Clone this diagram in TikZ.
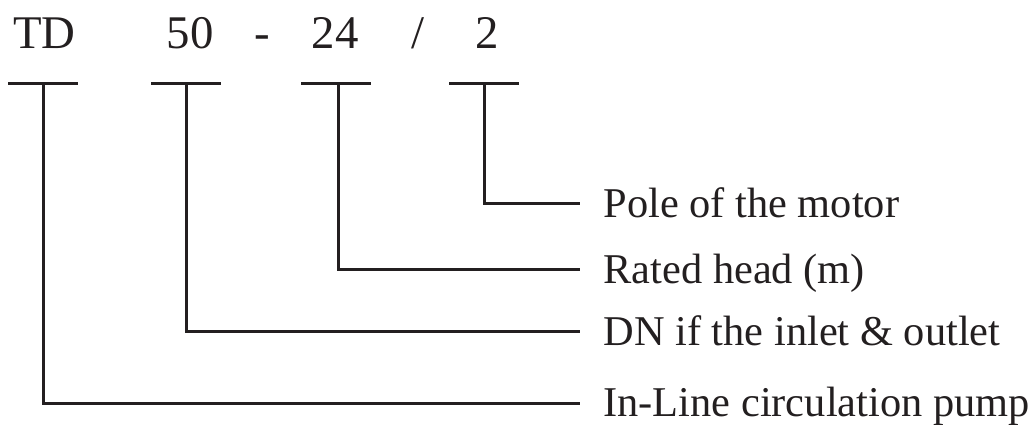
\documentclass[tikz,border=0pt]{standalone}
\usepackage{fontspec}
\setmainfont{Liberation Serif}
\definecolor{ink}{RGB}{35,31,32}

\begin{document}
\begin{tikzpicture}[x=0.5pt,y=-0.5pt,line width=1.5pt,draw=ink,text=ink]
\newcommand{\barhw}{35}
\newcommand{\bary}{83}
\newcommand{\codey}{48}
\newcommand{\tipx}{580}
\newcommand{\lblx}{602}
\tikzset{code/.style={font=\fontsize{23.4}{28}\selectfont,inner sep=0pt,anchor=base},
  lbl/.style={font=\fontsize{21.2}{25}\selectfont,inner sep=0pt,anchor=base west}}
\useasboundingbox (0,0) rectangle (1033,424);
% model code
\node [code] (ctd) at (44.5,\codey) {TD};
\node [code] (cdn) at (190,\codey) {50};
\node [code] (cdash) at (262.5,\codey) {-};
\node [code] (chead) at (335,\codey) {24};
\node [code] (cslash) at (417.5,\codey) {/};
\node [code] (cpole) at (487.5,\codey) {2};
% bars under the code
\coordinate (btd) at (43,\bary);
\coordinate (bdn) at (186,\bary);
\coordinate (bhead) at (338,\bary);
\coordinate (bpole) at (484,\bary);
\draw (btd) ++(-\barhw,0) -- ++(2*\barhw,0);
\draw (bdn) ++(-\barhw,0) -- ++(2*\barhw,0);
\draw (bhead) ++(-\barhw-2,0) -- ++(2*\barhw,0);
\draw (bpole) ++(-\barhw,0) -- ++(2*\barhw,0);
% labels
\coordinate (epole) at (\tipx,203);
\coordinate (ehead) at (\tipx,269);
\coordinate (edn) at (\tipx,331);
\coordinate (etd) at (\tipx,403);
\node [lbl] (lpole) at (\lblx,217) {Pole of the motor};
\node [lbl] (lhead) at (\lblx,283) {Rated head (m)};
\node [lbl] (ldn) at (\lblx,345) {DN if the inlet \& outlet};
\node [lbl] (ltd) at (\lblx,416) {In-Line circulation pump};
\draw (bpole) |- (epole);
\draw (bhead) |- (ehead);
\draw (bdn) |- (edn);
\draw (btd) |- (etd);
\end{tikzpicture}
\end{document}
